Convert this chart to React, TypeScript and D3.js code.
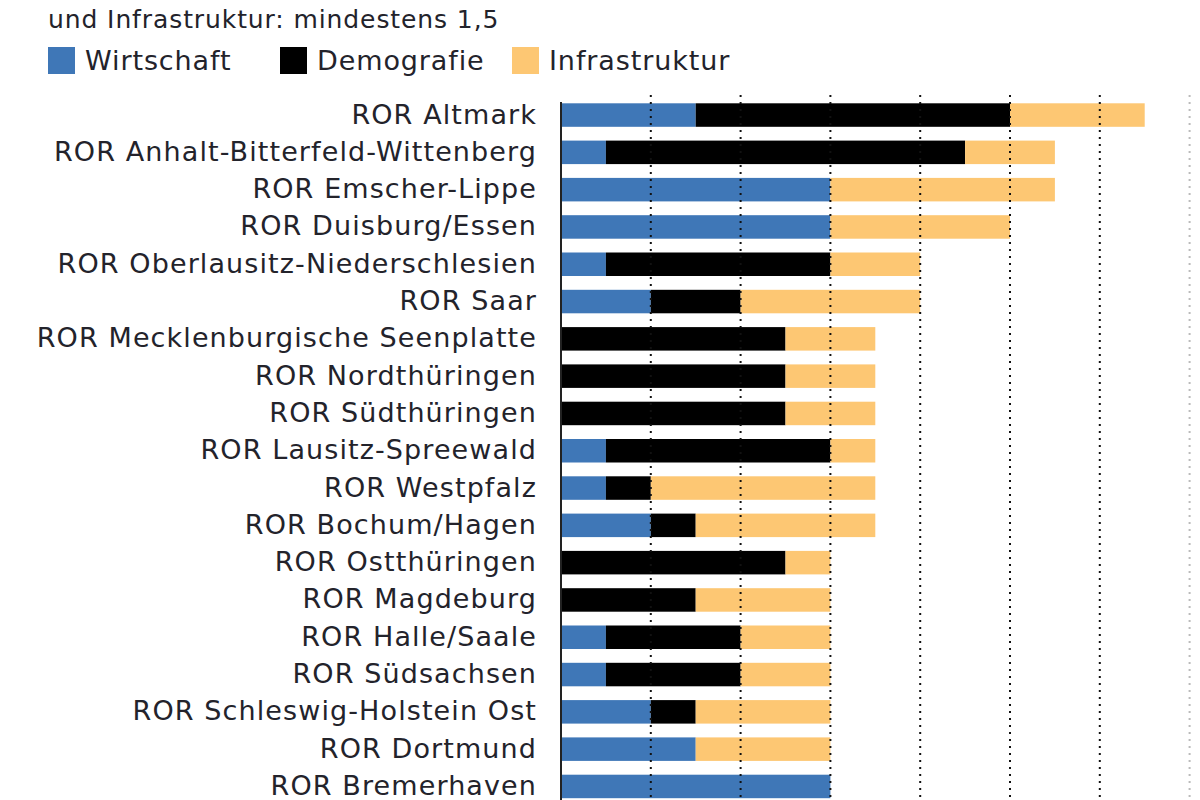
import React, { useEffect, useRef } from 'react';
import * as d3 from 'd3';

const regions = [
    'ROR Altmark',
    'ROR Anhalt-Bitterfeld-Wittenberg',
    'ROR Emscher-Lippe',
    'ROR Duisburg/Essen',
    'ROR Oberlausitz-Niederschlesien',
    'ROR Saar',
    'ROR Mecklenburgische Seenplatte',
    'ROR Nordthüringen',
    'ROR Südthüringen',
    'ROR Lausitz-Spreewald',
    'ROR Westpfalz',
    'ROR Bochum/Hagen',
    'ROR Ostthüringen',
    'ROR Magdeburg',
    'ROR Halle/Saale',
    'ROR Südsachsen',
    'ROR Schleswig-Holstein Ost',
    'ROR Dortmund',
    'ROR Bremerhaven',
];

const wirtschaft = [1.5, 0.5, 3, 3, 0.5, 1, 0, 0, 0, 0.5, 0.5, 1, 0, 0, 0.5, 0.5, 1, 1.5, 3];
const demografie = [3.5, 4, 0, 0, 2.5, 1, 2.5, 2.5, 2.5, 2.5, 0.5, 0.5, 2.5, 1.5, 1.5, 1.5, 0.5, 0, 0];
const infrastruktur = [1.5, 1, 2.5, 2, 1, 2, 1, 1, 1, 0.5, 2.5, 2, 0.5, 1.5, 1, 1, 1.5, 1.5, 0];

const seriesNames = ['Wirtschaft', 'Demografie', 'Infrastruktur'];
const seriesColors = ['#3f77b7', '#000000', '#fdc773'];
const gridTicks = [1, 2, 3, 4, 5, 6, 7];

const FONT = '"DejaVu Sans", sans-serif';
const TEXT = '#23232b';

const App: React.FC = () => {
    const svgRef = useRef<SVGSVGElement>(null);

    useEffect(() => {
        document.body.style.margin = '0';
        if (!svgRef.current) return;
        const svg = d3.select(svgRef.current);
        svg.selectAll('*').remove();

        const width = 1200;
        const height = 800;

        svg.append('rect').attr('width', width).attr('height', height).attr('fill', '#fff');

        // title (cut at top)
        svg.append('text')
            .attr('x', 48)
            .attr('y', 28)
            .attr('fill', TEXT)
            .style('font-family', FONT)
            .style('font-size', '25px')
            .style('letter-spacing', '0.9px')
            .text('und Infrastruktur: mindestens 1,5');

        // legend
        const legendX = [48, 280, 512];
        seriesNames.forEach((name, i) => {
            svg.append('rect')
                .attr('x', legendX[i])
                .attr('y', 47)
                .attr('width', 27)
                .attr('height', 27)
                .attr('fill', seriesColors[i]);
            svg.append('text')
                .attr('x', legendX[i] + 37)
                .attr('y', 70)
                .attr('fill', TEXT)
                .style('font-family', FONT)
                .style('font-size', '27px')
                .style('letter-spacing', '0.9px')
                .text(name);
        });

        const x = d3.scaleLinear().domain([0, 7]).range([561, 561 + 7 * 89.8]);
        const y = d3.scaleBand()
            .domain(regions)
            .range([96.4, 805.1])
            .paddingInner(0.37)
            .paddingOuter(0.185);

        const rows = regions.map((r, i) => ({
            region: r,
            Wirtschaft: wirtschaft[i],
            Demografie: demografie[i],
            Infrastruktur: infrastruktur[i],
        }));
        const stacked = d3.stack<any>().keys(seriesNames)(rows);

        const g = svg.append('g');
        stacked.forEach((layer, li) => {
            g.selectAll(`.bar-${li}`)
                .data(layer)
                .enter()
                .append('rect')
                .attr('x', d => x(d[0]))
                .attr('y', d => y(d.data.region) || 0)
                .attr('width', d => Math.max(0, x(d[1]) - x(d[0])))
                .attr('height', y.bandwidth())
                .attr('fill', seriesColors[li]);
        });

        // dotted grid lines over bars
        svg.append('g')
            .selectAll('line')
            .data(gridTicks)
            .enter()
            .append('line')
            .attr('x1', d => x(d))
            .attr('x2', d => x(d))
            .attr('y1', 95)
            .attr('y2', 800)
            .attr('stroke', d => (d === 7 ? '#bbb' : '#111'))
            .attr('stroke-width', 2)
            .attr('stroke-dasharray', '2 5');

        // axis line
        svg.append('line')
            .attr('x1', x(0))
            .attr('x2', x(0))
            .attr('y1', 102)
            .attr('y2', 800)
            .attr('stroke', '#222')
            .attr('stroke-width', 2);

        // category labels
        svg.append('g')
            .selectAll('text')
            .data(regions)
            .enter()
            .append('text')
            .attr('x', 537)
            .attr('y', d => (y(d) || 0) + y.bandwidth() / 2 - 1)
            .attr('dy', '0.35em')
            .attr('text-anchor', 'end')
            .attr('fill', TEXT)
            .style('font-family', FONT)
            .style('font-size', '27px')
            .style('letter-spacing', '1.1px')
            .text(d => d);
    }, []);

    return <svg ref={svgRef} width={1200} height={800} style={{ display: 'block' }} />;
};

export default App;
